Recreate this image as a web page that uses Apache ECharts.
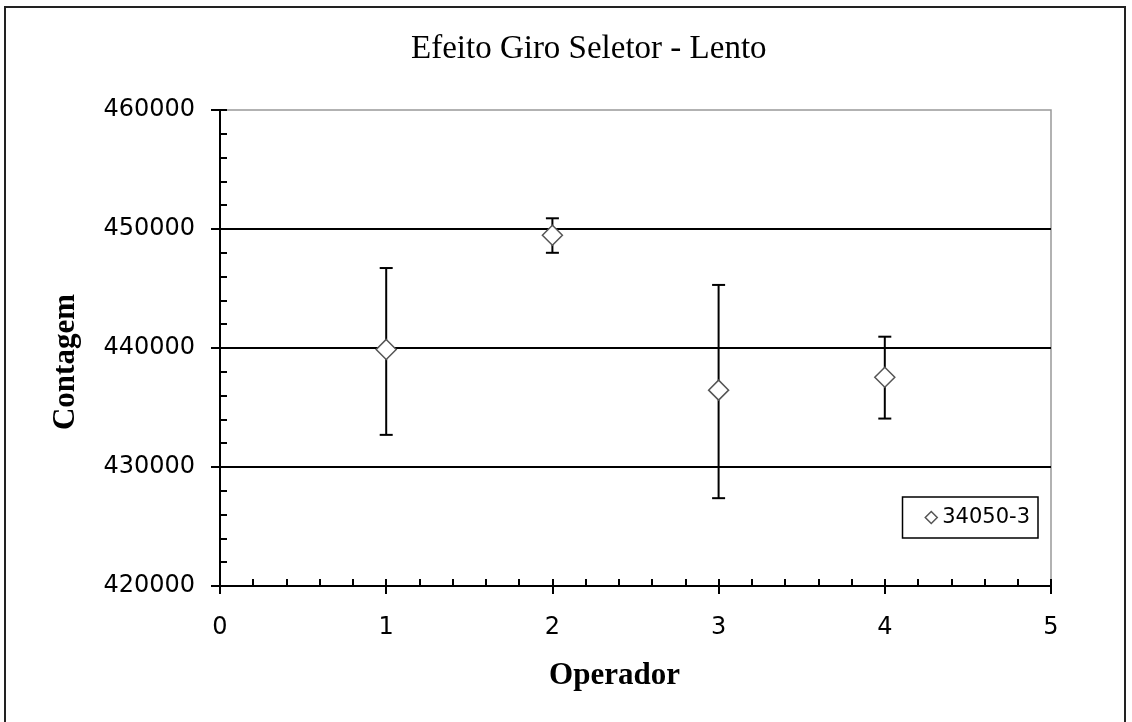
<!DOCTYPE html>
<html>
<head>
<meta charset="utf-8">
<script src="https://cdn.jsdelivr.net/npm/echarts@6/dist/echarts.min.js"></script>
<style>
  html, body { margin: 0; padding: 0; background: #fff; }
  #chart { width: 1132px; height: 722px; position: relative; }
  .frame {
    position: absolute; left: 4px; top: 6px; width: 1122px; height: 730px;
    border: 2px solid #222; box-sizing: border-box; pointer-events: none; z-index: 5;
  }
</style>
</head>
<body>
<div id="chart"></div>
<div class="frame"></div>
<script>
const seriesName = '34050-3';
const operators = [1, 2, 3, 4];
const means = [439880, 449480, 436460, 437540];
const upper = [446720, 450900, 445300, 440950];
const lower = [432700, 448000, 427380, 434070];

const serif = '"Liberation Serif", "Times New Roman", serif';
const sans = '"DejaVu Sans", Verdana, sans-serif';
const diamond = 'path://M0,-1 L1,0 L0,1 L-1,0 Z';

const chart = echarts.init(document.getElementById('chart'));

const errorData = operators.map((x, i) => [x, lower[i], upper[i]]);

const option = {
  animation: false,
  backgroundColor: '#fff',
  title: {
    text: 'Efeito Giro Seletor - Lento',
    left: 406,
    top: 28,
    textStyle: { fontFamily: serif, fontSize: 33, fontWeight: 'normal', color: '#000' }
  },
  grid: {
    left: 220, right: 81, top: 110, bottom: 136,
    show: true, borderColor: '#999', borderWidth: 1.5, backgroundColor: '#fff'
  },
  legend: {
    data: [{ name: seriesName, icon: diamond }],
    right: 94,
    top: 497,
    itemWidth: 12,
    itemHeight: 12,
    itemGap: 6,
    padding: [10, 8, 10, 22],
    borderColor: '#000',
    borderWidth: 1.5,
    backgroundColor: '#fff',
    textStyle: { fontFamily: sans, fontSize: 21, color: '#000' },
    itemStyle: { color: '#fff', borderColor: '#555', borderWidth: 1.5 }
  },
  xAxis: [
    {
      type: 'value', min: 0, max: 5, interval: 1,
      name: 'Operador', nameLocation: 'middle', nameGap: 74,
      nameTextStyle: { fontFamily: serif, fontSize: 31, fontWeight: 'bold', color: '#000', padding: [0, 42, 0, 0] },
      axisLine: { show: true, lineStyle: { color: '#000', width: 2 } },
      axisTick: { show: true, inside: false, length: 8, lineStyle: { color: '#000', width: 2 } },
      axisLabel: { fontFamily: sans, fontSize: 24, color: '#000', margin: 30, formatter: (v) => String(v) },
      splitLine: { show: false }
    },
    {
      type: 'value', min: 0, max: 5, interval: 0.2, position: 'bottom',
      axisLine: { show: false },
      axisTick: { show: true, inside: true, length: 7, lineStyle: { color: '#000', width: 2 } },
      axisLabel: { show: false },
      splitLine: { show: false }
    }
  ],
  yAxis: [
    {
      type: 'value', min: 420000, max: 460000, interval: 10000,
      name: 'Contagem', nameLocation: 'middle', nameGap: 139, nameRotate: 90,
      nameTextStyle: { fontFamily: serif, fontSize: 31, fontWeight: 'bold', color: '#000', padding: [0, 28, 0, 0] },
      axisLine: { show: true, lineStyle: { color: '#000', width: 2 } },
      axisTick: { show: true, inside: false, length: 9, lineStyle: { color: '#000', width: 2 } },
      axisLabel: { fontFamily: sans, fontSize: 24, color: '#000', margin: 25, formatter: (v) => String(v) },
      splitLine: { show: true, showMinLine: false, showMaxLine: false, lineStyle: { color: '#000', width: 2 } }
    },
    {
      type: 'value', min: 420000, max: 460000, interval: 2000, position: 'left',
      axisLine: { show: false },
      axisTick: { show: true, inside: true, length: 7, lineStyle: { color: '#000', width: 2 } },
      axisLabel: { show: false },
      splitLine: { show: false }
    }
  ],
  series: [
    {
      type: 'custom',
      name: 'erro',
      xAxisIndex: 0,
      yAxisIndex: 0,
      z: 3,
      silent: true,
      data: errorData,
      renderItem: function (params, api) {
        const lo = api.coord([api.value(0), api.value(1)]);
        const hi = api.coord([api.value(0), api.value(2)]);
        const cap = 6.5;
        const style = { stroke: '#000', lineWidth: 2 };
        return {
          type: 'group',
          children: [
            { type: 'line', shape: { x1: lo[0], y1: lo[1], x2: hi[0], y2: hi[1] }, style: style },
            { type: 'line', shape: { x1: lo[0] - cap, y1: lo[1], x2: lo[0] + cap, y2: lo[1] }, style: style },
            { type: 'line', shape: { x1: hi[0] - cap, y1: hi[1], x2: hi[0] + cap, y2: hi[1] }, style: style }
          ]
        };
      }
    },
    {
      type: 'scatter',
      name: seriesName,
      xAxisIndex: 0,
      yAxisIndex: 0,
      z: 4,
      symbol: diamond,
      symbolSize: 20,
      itemStyle: { color: '#fff', borderColor: '#555', borderWidth: 1.5, opacity: 1 },
      data: operators.map((x, i) => [x, means[i]])
    }
  ]
};

chart.setOption(option);
</script>
</body>
</html>
